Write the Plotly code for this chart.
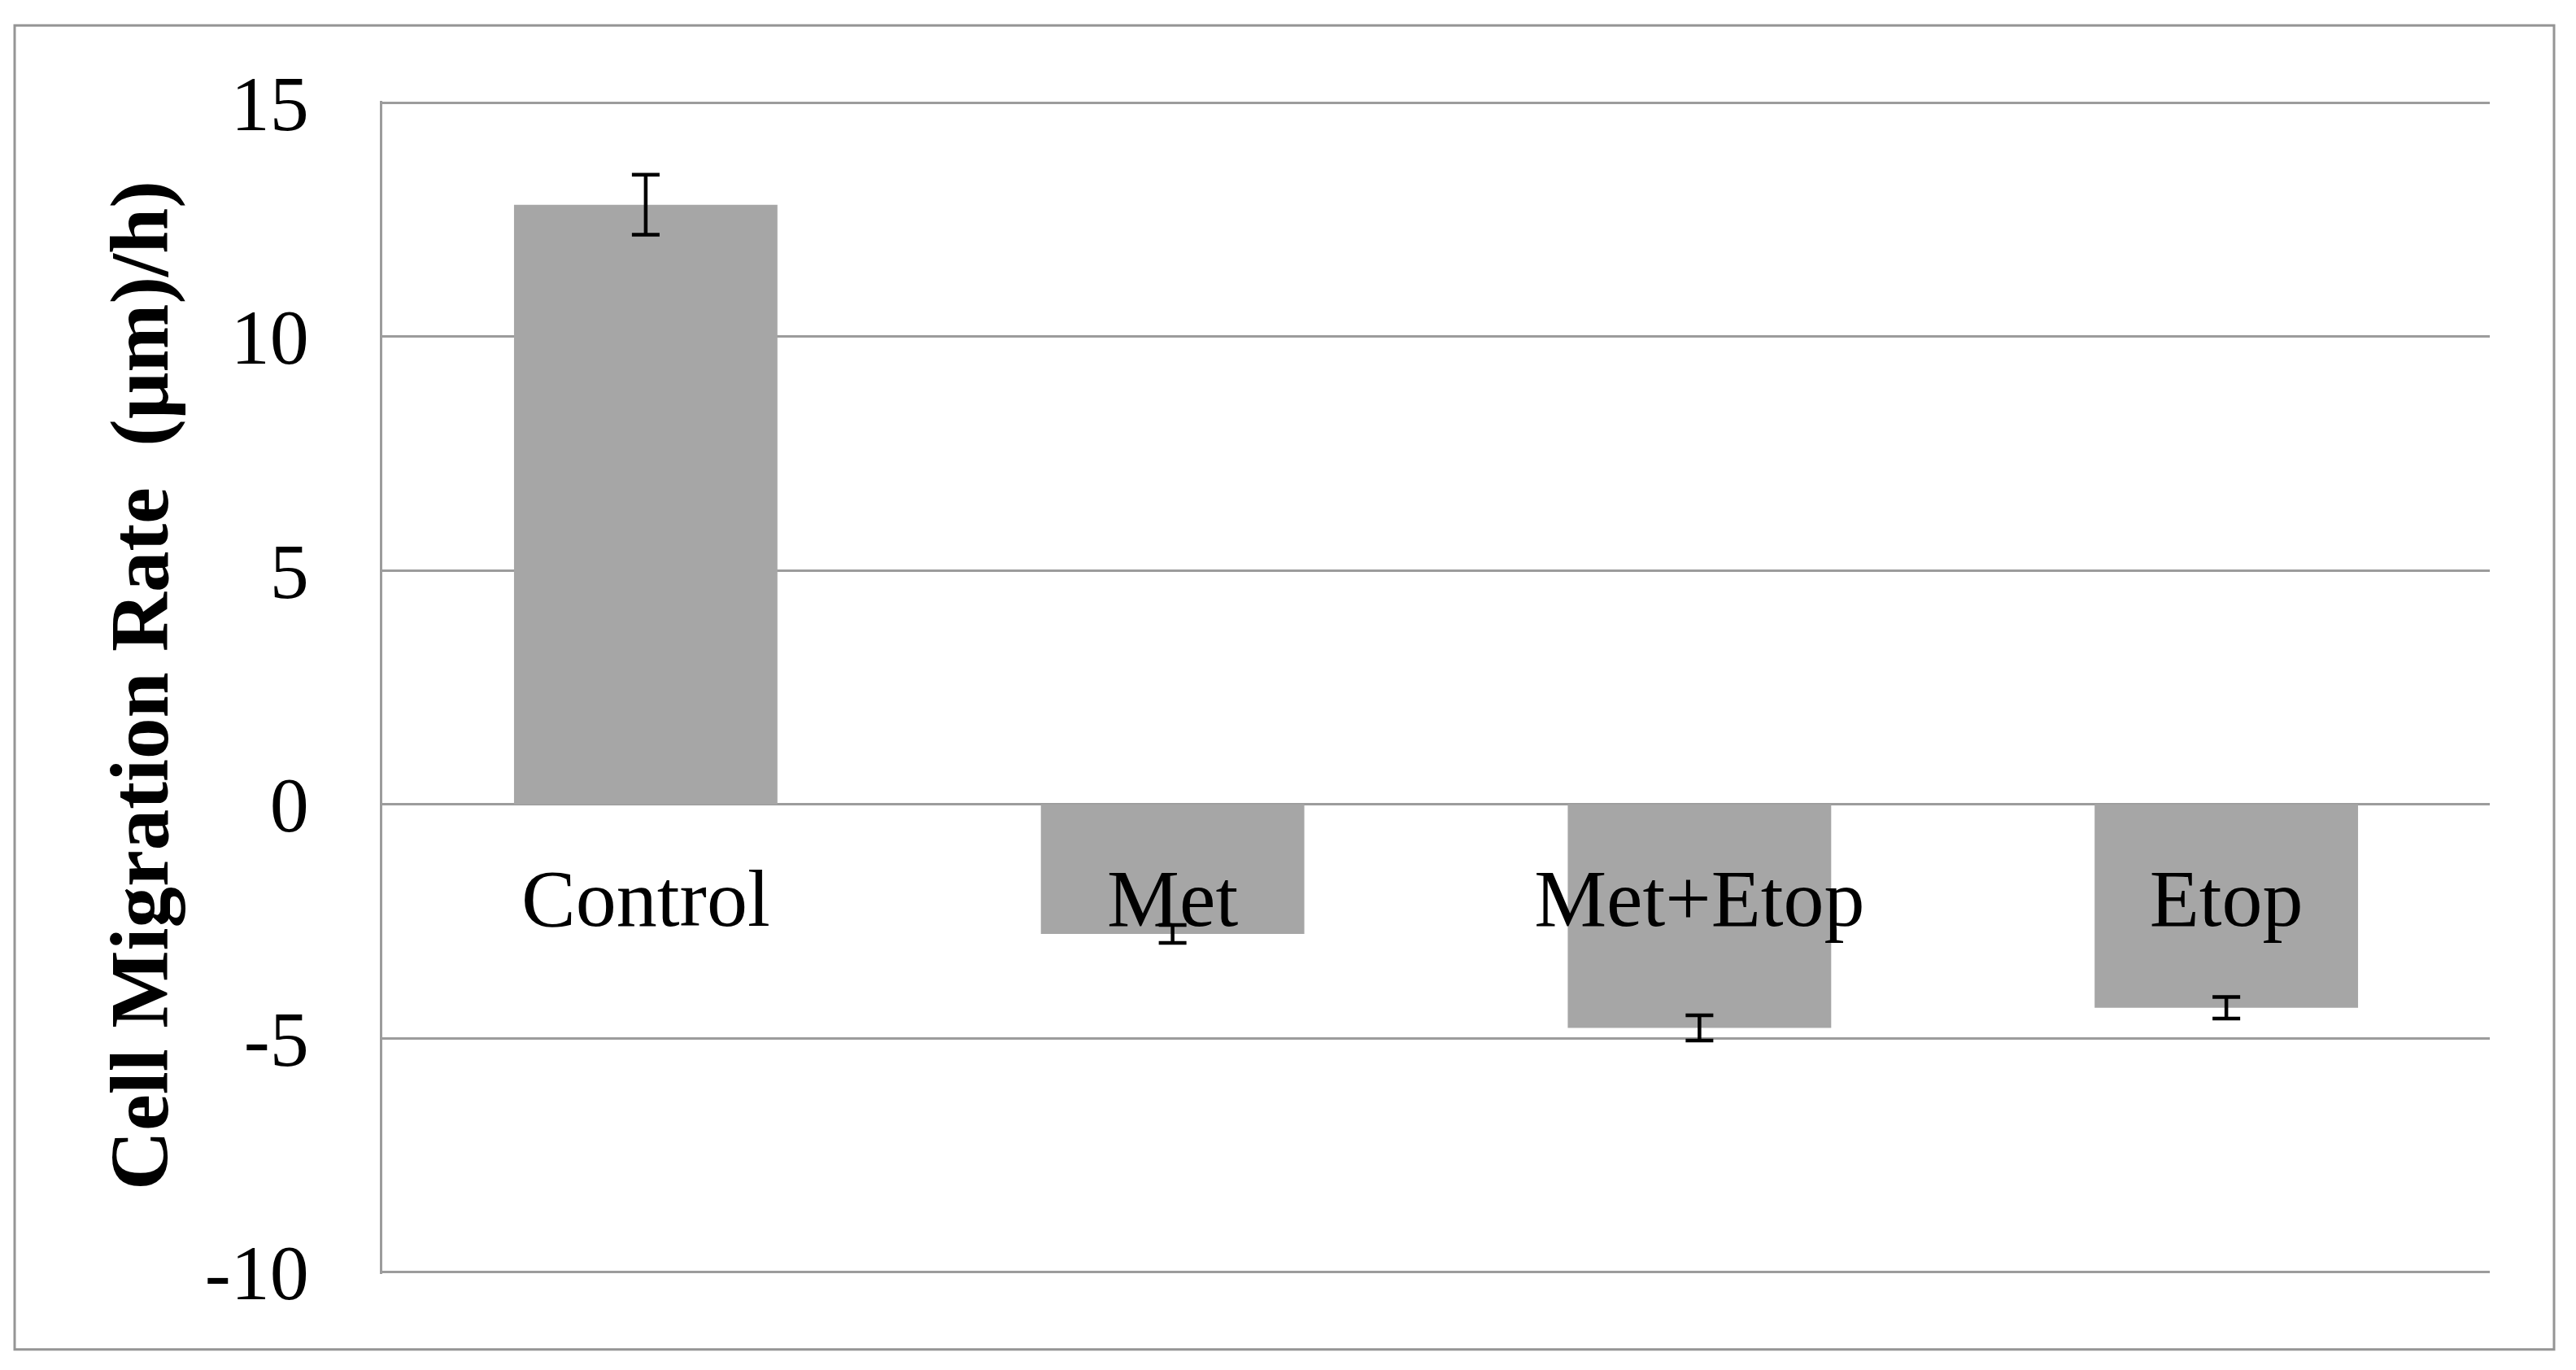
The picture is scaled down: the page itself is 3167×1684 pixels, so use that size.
import plotly.graph_objects as go

categories = ["Control", "Met", "Met+Etop", "Etop"]
rates = [12.82, -2.77, -4.78, -4.35]
errors = [0.64, 0.19, 0.27, 0.23]
y_ticks = [-10, -5, 0, 5, 10, 15]
y_title = "Cell Migration Rate\u00a0\u00a0(μm)/h)"

OFF = 8  # default body margin of the html page
W, H = 3167 - OFF, 1684 - OFF
PAD = 0.04  # small range padding so the end gridlines are drawn
YMIN, YMAX = -10 - PAD, 15 + PAD

# page-pixel geometry of the plot area (15 -> 126, -10 -> 1564)
ppu = (1564 - 126) / 25.0
top_px = 126 - PAD * ppu - OFF
bot_px = 1564 + PAD * ppu - OFF
left_px = 470 - OFF
right_px = 3061 - OFF

ML, MR = left_px, W - right_px
MT, MB = top_px, H - bot_px
FONT = "Liberation Serif"
GRID = "#9c9c9c"

pw, ph = W - ML - MR, H - MT - MB
def px_x(x): return (x - OFF - ML) / pw
def px_y(y): return (H - MB - (y - OFF)) / ph

fig = go.Figure()
fig.add_trace(go.Bar(
    x=categories, y=rates,
    marker=dict(color="#a6a6a6", line=dict(width=0)),
    error_y=dict(type="data", array=errors, visible=True,
                 color="black", thickness=4.5, width=17),
    showlegend=False,
))

fig.update_layout(
    width=W, height=H,
    margin=dict(l=ML, r=MR, t=MT, b=MB, autoexpand=False),
    paper_bgcolor="white", plot_bgcolor="white",
    bargap=0.5,
    font=dict(family=FONT, color="black", size=98),
    xaxis=dict(
        anchor="free", position=(0 - YMIN) / (YMAX - YMIN),
        showline=False, showgrid=False, zeroline=False,
        ticks="", tickfont=dict(family=FONT, size=100, color="black"),
        ticklabelstandoff=48,
    ),
    yaxis=dict(
        range=[YMIN, YMAX], tickvals=y_ticks, ticktext=[str(v) for v in y_ticks],
        showgrid=True, gridcolor=GRID, gridwidth=3,
        zeroline=True, zerolinecolor=GRID, zerolinewidth=3,
        showline=True, linecolor=GRID, linewidth=3,
        ticks="", tickfont=dict(family=FONT, size=96, color="black"),
        ticklabelstandoff=68,
    ),
    shapes=[dict(type="rect", xref="paper", yref="paper",
                 x0=px_x(18), x1=px_x(3140), y0=px_y(1659), y1=px_y(31),
                 line=dict(color="#959595", width=3), layer="below")],
    annotations=[dict(text="<b>" + y_title + "</b>", xref="paper", yref="paper",
                      x=px_x(172), y=px_y(843), xanchor="center", yanchor="middle",
                      textangle=-90, showarrow=False,
                      font=dict(family=FONT, size=101, color="black"))],
)

fig.write_html("out.html")
